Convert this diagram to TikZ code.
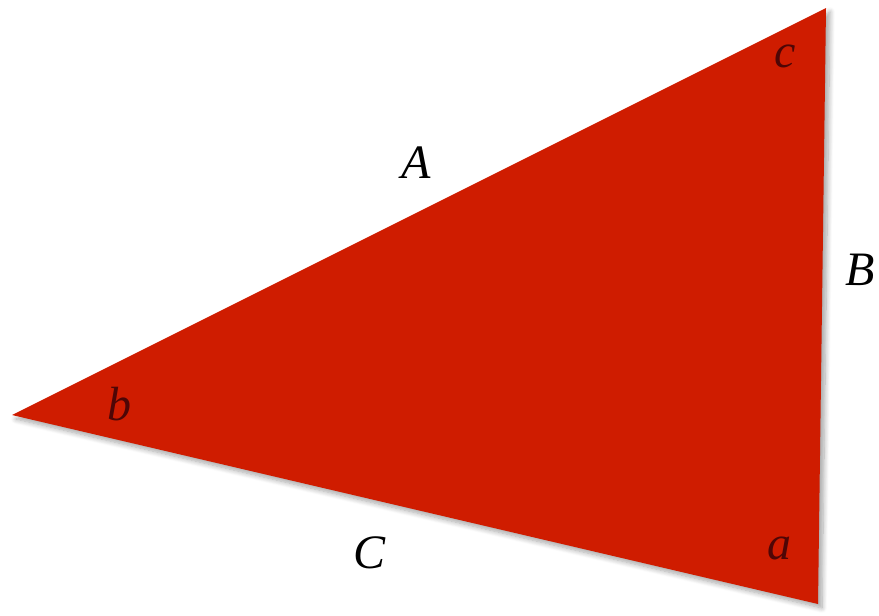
\documentclass[tikz,border=0pt]{standalone}
\usepackage{fontspec}
\setmainfont{Liberation Serif}
\usetikzlibrary{shadows.blur}
\definecolor{trired}{HTML}{CF1C00}
\definecolor{lblin}{HTML}{4E0606}
\begin{document}
\begin{tikzpicture}[x=1pt,y=-1pt,
  side/.style={font=\fontsize{48}{52}\selectfont\itshape, text=black, inner sep=0pt},
  ang/.style={font=\fontsize{48}{52}\selectfont\itshape, text=lblin, inner sep=0pt}]
\useasboundingbox (0,0) rectangle (879,616);
\coordinate (T) at (826,8);
\coordinate (L) at (12,415);
\coordinate (R) at (818,604);
\fill[trired, blur shadow={shadow xshift=4pt, shadow yshift=-4pt, shadow blur steps=8, shadow blur radius=5pt, shadow opacity=35}] (T) -- (L) -- (R) -- cycle;
\node[ang] (c) at (785,56) {c};
\node[ang] (b) at (119,404) {b};
\node[ang] (a) at (779,548) {a};
\node[side] (A) at (416,163) {A};
\node[side] (B) at (860,270) {B};
\node[side] (C) at (370,553) {C};
\end{tikzpicture}
\end{document}
